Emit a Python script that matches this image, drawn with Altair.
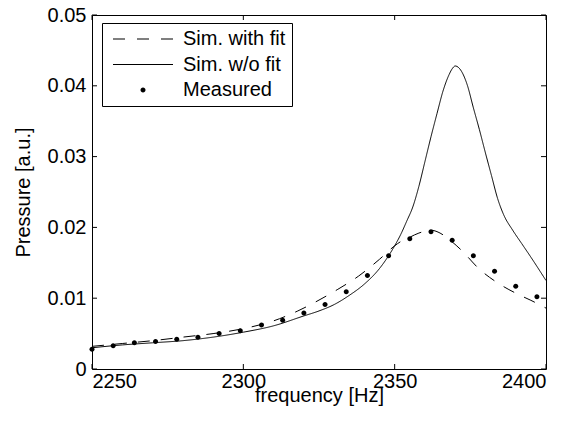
import altair as alt
import pandas as pd

# --- data ---
series_names = ["Sim. with fit", "Sim. w/o fit", "Measured"]

fit_f = [2250, 2260, 2270, 2280, 2290, 2300, 2310, 2318, 2324, 2331, 2338, 2345,
         2350, 2352, 2354, 2358, 2362, 2365, 2368, 2372, 2378, 2385, 2391, 2395, 2400]
fit_p = [0.0032, 0.0036, 0.0040, 0.0045, 0.0050, 0.0057, 0.0068, 0.0082, 0.0095,
         0.0112, 0.0131, 0.0155, 0.0174, 0.0180, 0.0184, 0.0192, 0.0196, 0.0192,
         0.0183, 0.0168, 0.0141, 0.0119, 0.0105, 0.0097, 0.0086]

nofit_f = [2250, 2260, 2270, 2280, 2290, 2300, 2310, 2320, 2325, 2330, 2335, 2340,
           2345, 2348, 2350, 2352, 2354, 2356, 2358, 2360, 2362, 2364, 2366, 2368,
           2369, 2370, 2372, 2374, 2376, 2378, 2380, 2382, 2384, 2386, 2389, 2392,
           2395, 2400]
nofit_p = [0.0030, 0.0034, 0.0037, 0.0040, 0.0045, 0.0052, 0.0061, 0.0075, 0.0082,
           0.0091, 0.0104, 0.0120, 0.0142, 0.0160, 0.0174, 0.0190, 0.0209, 0.0229,
           0.0258, 0.0293, 0.0328, 0.0361, 0.0393, 0.0416, 0.0424, 0.0428, 0.0421,
           0.0401, 0.0369, 0.0338, 0.0305, 0.0273, 0.0241, 0.0218, 0.0196, 0.0177,
           0.0158, 0.0125]

meas_f = [2250, 2257, 2264, 2271, 2278, 2285, 2292, 2299, 2306, 2313, 2320, 2327,
          2334, 2341, 2348, 2355, 2362, 2369, 2376, 2383, 2390, 2397]
meas_p = [0.0028, 0.0033, 0.0037, 0.0039, 0.0042, 0.0045, 0.0050, 0.0054, 0.0062,
          0.0069, 0.0079, 0.0091, 0.0109, 0.0132, 0.0160, 0.0184, 0.0194, 0.0182,
          0.0160, 0.0138, 0.0117, 0.0102]

x_ticks = [2250, 2300, 2350, 2400]
y_ticks = [0, 0.01, 0.02, 0.03, 0.04, 0.05]

W, H = 454, 354
FONT = "Liberation Sans"
FS = 20

lines_df = pd.concat([
    pd.DataFrame({"series": series_names[0], "f": fit_f, "p": fit_p}),
    pd.DataFrame({"series": series_names[1], "f": nofit_f, "p": nofit_p}),
])
meas_df = pd.DataFrame({"series": series_names[2], "f": meas_f, "p": meas_p})
xt_df = pd.DataFrame({"f": x_ticks})
yt_df = pd.DataFrame({"p": y_ticks})

xscale = alt.Scale(domain=[2250, 2400], nice=False, zero=False)
yscale = alt.Scale(domain=[0, 0.05], nice=False)

x_enc = alt.X("f:Q", scale=xscale, title="frequency [Hz]",
              axis=alt.Axis(values=x_ticks, format="d", ticks=False, domain=False,
                            grid=False, labelPadding=2, titlePadding=-6))
y_enc = alt.Y("p:Q", scale=yscale, title="Pressure [a.u.]",
              axis=alt.Axis(values=y_ticks, format=".2~f", ticks=False, domain=False,
                            grid=False, labelPadding=6, titlePadding=14))

# legend symbol shapes (unit path, scaled by the symbol size)
dash_path = "M-6,-0.1H-3.6V0.1H-6Z M-1.2,-0.1H1.2V0.1H-1.2Z M3.6,-0.1H6V0.1H3.6Z"
line_path = "M-6,-0.1H6V0.1H-6Z"
dot_path = "M-0.5,0A0.5,0.5,0,1,0,0.5,0A0.5,0.5,0,1,0,-0.5,0Z"

lines = alt.Chart(lines_df).mark_line(color="black", strokeWidth=1, clip=True,
                                      interpolate="monotone").encode(
    x=x_enc, y=y_enc,
    detail="series:N",
    strokeDash=alt.StrokeDash("series:N",
                              scale=alt.Scale(domain=series_names[:2], range=[[12, 11], [1, 0]]),
                              legend=None),
)

points = alt.Chart(meas_df).mark_point(filled=True, color="black", size=100, opacity=1).encode(
    x=alt.X("f:Q", scale=xscale),
    y=alt.Y("p:Q", scale=yscale),
    shape=alt.Shape("series:N",
                    scale=alt.Scale(domain=series_names, range=[dash_path, line_path, dot_path]),
                    legend=alt.Legend(title=None, orient="none", legendX=10, legendY=8,
                                      padding=6, strokeColor="black", fillColor="white",
                                      labelFont=FONT, labelFontSize=FS, labelColor="black",
                                      symbolSize=100, symbolStrokeWidth=0,
                                      symbolFillColor="black",
                                      symbolOpacity=1, symbolOffset=25, labelOffset=30,
                                      rowPadding=5.5, labelLimit=300)),
)

xt_bottom = alt.Chart(xt_df).mark_rule(color="black", strokeWidth=1).encode(
    x=alt.X("f:Q", scale=xscale), y=alt.value(H), y2=alt.value(H - 5))
xt_top = alt.Chart(xt_df).mark_rule(color="black", strokeWidth=1).encode(
    x=alt.X("f:Q", scale=xscale), y=alt.value(0), y2=alt.value(5))
yt_left = alt.Chart(yt_df).mark_rule(color="black", strokeWidth=1).encode(
    y=alt.Y("p:Q", scale=yscale), x=alt.value(0), x2=alt.value(5))
yt_right = alt.Chart(yt_df).mark_rule(color="black", strokeWidth=1).encode(
    y=alt.Y("p:Q", scale=yscale), x=alt.value(W), x2=alt.value(W - 5))

chart = alt.layer(lines, points, xt_bottom, xt_top, yt_left, yt_right).properties(
    width=W, height=H,
    autosize=alt.AutoSizeParams(type="none"),
    padding={"left": 84, "top": 7, "right": 20, "bottom": 50},
    background="white",
).configure_view(stroke="black", strokeWidth=1).configure_axis(
    labelFont=FONT, labelFontSize=FS, labelColor="black",
    titleFont=FONT, titleFontSize=FS, titleColor="black", titleFontWeight="normal",
)

chart.save("out.html", embed_options={"renderer": "svg", "actions": False})
